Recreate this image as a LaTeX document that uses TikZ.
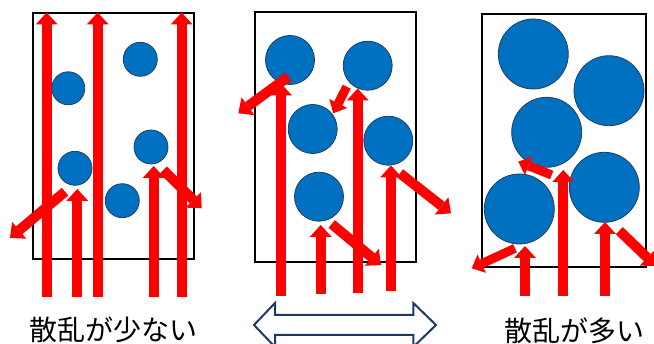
\documentclass[tikz,border=0pt]{standalone}
\usepackage{fontspec}
\newfontfamily\jpfont{Noto Sans CJK JP}
\usetikzlibrary{arrows.meta}
\definecolor{rayred}{HTML}{FF0000}
\definecolor{ballblue}{HTML}{0070C0}
\definecolor{ballline}{HTML}{1F3F60}
\definecolor{navyline}{HTML}{203864}
\tikzset{
  lightray/.style={draw=rayred, line width=10pt, line cap=butt,
    -{Triangle[width=22pt,length=12pt,line width=0pt]}},
  smallray/.style={draw=rayred, line width=9pt, line cap=butt,
    -{Triangle[width=20pt,length=11pt,line width=0pt]}},
  ball/.style={circle, fill=ballblue, draw=ballline, line width=0.8pt, inner sep=0pt, minimum size=#1},
  cell/.style={draw=black, line width=2pt},
  lbl/.style={font=\jpfont\fontsize{28}{31}\selectfont, inner sep=0pt},
  dbl/.style={draw=navyline, line width=2pt, fill=white, line join=miter},
}
\begin{document}
\begin{tikzpicture}[x=1pt,y=-1pt]
\useasboundingbox (0,0) rectangle (654,344);
% ---------- panel 1 ----------
\draw[cell] (33.3,13.3) rectangle (194.3,259.3);
\node[ball=33pt] (p1a) at (68.3,88.3) {};
\node[ball=34pt] (p1b) at (140.3,59.3) {};
\node[ball=34pt] (p1c) at (75,168.3) {};
\node[ball=34pt] (p1d) at (151,147) {};
\node[ball=34pt] (p1e) at (122.3,200.7) {};
\draw[lightray] (46.7,297) -- (46.7,12.5);
\draw[lightray] (97.7,297) -- (97.7,12.5);
\draw[lightray] (181.7,297) -- (181.7,12.5);
\draw[lightray] (77.3,297) -- (77.3,189);
\draw[lightray] (153.7,297) -- (153.7,166);
\draw[lightray] (65,191.7) -- (10,238);
\draw[lightray] (163.3,170) -- (201.7,208.3);
% ---------- panel 2 ----------
\draw[cell] (255,11.7) rectangle (416,261.7);
\node[ball=49pt] (p2a) at (290,60) {};
\node[ball=49pt] (p2b) at (367.7,65.7) {};
\node[ball=49pt] (p2c) at (312.7,129) {};
\node[ball=49pt] (p2d) at (388.3,140.7) {};
\node[ball=49pt] (p2e) at (319,196.7) {};
\draw[lightray] (281,296) -- (281,83.5);
\draw[lightray] (320.7,294) -- (320.7,225);
\draw[lightray] (357.7,293) -- (357.7,88.5);
\draw[lightray] (391,291) -- (391,165.5);
\draw[lightray] (288.3,76.7) -- (238.3,113.3);
\draw[smallray] (346.7,86.7) -- (333.3,113.3);
\draw[lightray] (400,173.3) -- (451,213.3);
\draw[lightray] (331.7,224) -- (381,265);
% ---------- panel 3 ----------
\draw[cell] (481.7,14) rectangle (645.7,267.3);
\node[ball=70pt] (p3a) at (533.3,54) {};
\node[ball=70pt] (p3b) at (609,90.7) {};
\node[ball=70pt] (p3c) at (546.7,132.3) {};
\node[ball=70pt] (p3d) at (604.3,187.3) {};
\node[ball=70pt] (p3e) at (519.3,209) {};
\draw[lightray] (525,296) -- (525,246);
\draw[lightray] (563.3,296) -- (563.3,170);
\draw[lightray] (605,296) -- (605,222);
\draw[smallray] (515,248.3) -- (471.7,268.3);
\draw[smallray] (551.7,175) -- (518.3,161.7);
\draw[lightray] (619.3,230.7) -- (656,266);
% ---------- bottom ----------
\draw[dbl] (254,325) -- (275,303) -- (275,315) -- (413.3,315) -- (413.3,303)
  -- (436,325) -- (413.3,347) -- (413.3,335) -- (275,335) -- (275,347) -- cycle;
\node[lbl] (t1) at (114,329.5) {散乱が少ない};
\node[lbl] (t3) at (574,330.5) {散乱が多い};
\end{tikzpicture}
\end{document}
